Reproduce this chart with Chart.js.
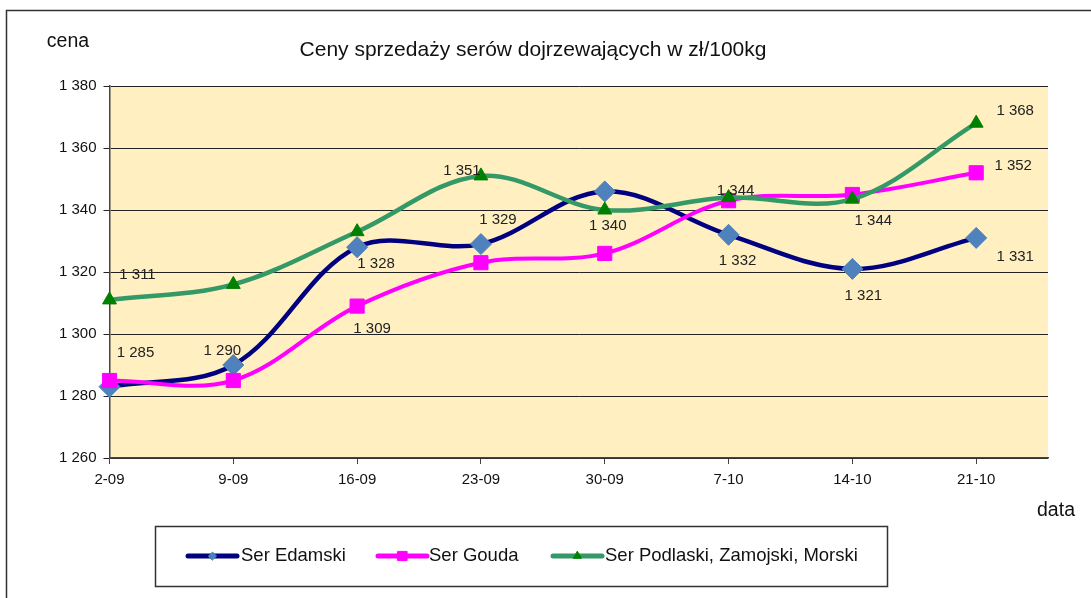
<!DOCTYPE html>
<html>
<head>
<meta charset="utf-8">
<script src="https://cdn.jsdelivr.net/npm/chart.js@4.4.1/dist/chart.umd.min.js"></script>
<style>
  html, body { margin: 0; padding: 0; background: #ffffff; }
  #wrap { width: 1091px; height: 598px; position: relative; }
</style>
</head>
<body>
<div id="wrap"><canvas id="c" width="1091" height="598"></canvas></div>
<script>
// ---- data ----
const categories = ['2-09', '9-09', '16-09', '23-09', '30-09', '7-10', '14-10', '21-10'];
const edamski = [1283, 1290, 1328, 1329, 1346, 1332, 1321, 1331];
const gouda = [1285, 1285, 1309, 1323, 1326, 1343, 1345, 1352];
const podlaski = [1311, 1316, 1333, 1351, 1340, 1344, 1343.5, 1368];
const seriesNames = ['Ser Edamski', 'Ser Gouda', 'Ser Podlaski, Zamojski, Morski'];
const yTickValues = [1260, 1280, 1300, 1320, 1340, 1360, 1380];
const chartTitle = 'Ceny sprzedaży serów dojrzewających w zł/100kg';
const yAxisTitle = 'cena';
const xAxisTitle = 'data';
// which points carry a value label (point index per series)
const edamskiLabelIdx = [1, 2, 3, 5, 6, 7];
const goudaLabelIdx = [0, 2, 7];
const podlaskiLabelIdx = [0, 3, 4, 5, 6, 7];

// ---- label placement (offsets from the point, px) ----
const labelOffsets = [
  {1: [-11, -14], 2: [19, 17], 3: [17, -24], 5: [9, 26], 6: [11, 27], 7: [39, 19]},
  {0: [26, -28], 2: [15, 23], 7: [37, -7]},
  {0: [28, -25], 3: [-19, -5], 4: [3, 16], 5: [7, -7], 6: [21, 22], 7: [39, -12]}
];
const labelIdx = [edamskiLabelIdx, goudaLabelIdx, podlaskiLabelIdx];

const FONT = '"Liberation Sans", Arial, sans-serif';
const fmt = v => String(Math.round(v)).replace(/\B(?=(\d{3})+(?!\d))/g, ' ');
const toXY = arr => arr.map((v, i) => ({x: i, y: v}));

const plotBg = {
  id: 'plotBg',
  beforeDraw(chart) {
    const {ctx, chartArea: a} = chart;
    ctx.save();
    ctx.fillStyle = '#ffffff';
    ctx.fillRect(0, 0, chart.width, chart.height);
    // outer frame (top & left visible)
    ctx.strokeStyle = '#333333';
    ctx.lineWidth = 1.5;
    ctx.beginPath();
    ctx.moveTo(6.5, chart.height);
    ctx.lineTo(6.5, 10.5);
    ctx.lineTo(chart.width, 10.5);
    ctx.stroke();
    ctx.fillStyle = '#FFEFC1';
    ctx.fillRect(a.left, a.top, a.right - a.left, a.bottom - a.top);
    ctx.restore();
  }
};

const decorations = {
  id: 'decorations',
  afterDatasetsDraw(chart) {
    const {ctx} = chart;
    ctx.save();
    // value labels
    ctx.font = '15px ' + FONT;
    ctx.fillStyle = '#222222';
    ctx.textAlign = 'center';
    ctx.textBaseline = 'middle';
    chart.data.datasets.forEach((ds, di) => {
      const meta = chart.getDatasetMeta(di);
      labelIdx[di].forEach(i => {
        const pt = meta.data[i];
        const off = labelOffsets[di][i] || [0, -15];
        ctx.fillText(fmt(ds.data[i].y), pt.x + off[0], pt.y + off[1]);
      });
    });
    ctx.restore();
  },
  afterDraw(chart) {
    const {ctx} = chart;
    ctx.save();
    ctx.fillStyle = '#111111';
    ctx.textBaseline = 'middle';
    ctx.textAlign = 'center';
    ctx.font = '21px ' + FONT;
    ctx.fillText(chartTitle, 533, 50);
    ctx.font = '19.5px ' + FONT;
    ctx.fillText(yAxisTitle, 68, 42);
    ctx.fillText(xAxisTitle, 1056, 511);

    // legend box
    ctx.strokeStyle = '#333333';
    ctx.lineWidth = 1.5;
    ctx.strokeRect(155.5, 526.5, 732, 60);
    const items = [
      {x1: 188, x2: 237, tx: 241},
      {x1: 378, x2: 427, tx: 429},
      {x1: 553, x2: 602, tx: 605}
    ];
    const ly = 556;
    chart.data.datasets.forEach((ds, i) => {
      const it = items[i];
      ctx.save();
      ctx.strokeStyle = ds.borderColor;
      ctx.lineWidth = 5;
      ctx.lineCap = 'round';
      ctx.beginPath();
      ctx.moveTo(it.x1, ly);
      ctx.lineTo(it.x2, ly);
      ctx.stroke();
      ctx.fillStyle = ds.pointBackgroundColor;
      ctx.strokeStyle = ds.pointBorderColor;
      ctx.lineWidth = 1;
      Chart.helpers.drawPoint(ctx, {
        pointStyle: ds.pointStyle, radius: ds.legendMarker, borderWidth: 1
      }, (it.x1 + it.x2) / 2, ly);
      ctx.restore();
      ctx.fillStyle = '#111111';
      ctx.font = '18.5px ' + FONT;
      ctx.textAlign = 'left';
      ctx.textBaseline = 'middle';
      ctx.fillText(seriesNames[i], it.tx, ly);
    });
    ctx.restore();
  }
};

new Chart(document.getElementById('c'), {
  type: 'line',
  data: {
    datasets: [
      {
        label: seriesNames[0], data: toXY(edamski),
        borderColor: '#000080', borderWidth: 4.5,
        pointStyle: 'rectRot', pointRadius: 10.5,
        pointBackgroundColor: '#4F81BD', pointBorderColor: '#4F81BD', pointBorderWidth: 1,
        legendMarker: 4, tension: 0.35, order: 3, clip: false
      },
      {
        label: seriesNames[1], data: toXY(gouda),
        borderColor: '#FF00FF', borderWidth: 4,
        pointStyle: 'rect', pointRadius: 10,
        pointBackgroundColor: '#FF00FF', pointBorderColor: '#FF00FF', pointBorderWidth: 1,
        legendMarker: 6.5, tension: 0.35, order: 2, clip: false
      },
      {
        label: seriesNames[2], data: toXY(podlaski),
        borderColor: '#339966', borderWidth: 4.5,
        pointStyle: 'triangle', pointRadius: 8,
        pointBackgroundColor: '#008000', pointBorderColor: '#008000', pointBorderWidth: 1,
        legendMarker: 4.5, tension: 0.35, order: 1, clip: false
      }
    ]
  },
  options: {
    responsive: false,
    animation: false,
    events: [],
    layout: {padding: {left: 0, top: 86, right: 43, bottom: 0}},
    plugins: {legend: {display: false}, title: {display: false}, tooltip: {enabled: false}},
    scales: {
      x: {
        type: 'linear',
        min: 0,
        max: 7.58,
        afterBuildTicks: s => { s.ticks = categories.map((c, i) => ({value: i})); },
        afterFit: s => { s.height = 140; },
        ticks: {
          callback: v => categories[v] !== undefined ? categories[v] : '',
          font: {size: 15, family: FONT},
          color: '#111111',
          padding: 7,
          maxRotation: 0,
          autoSkip: false
        },
        grid: {display: true, drawOnChartArea: false, drawTicks: true, tickLength: 6, color: '#444444'},
        border: {display: true, color: '#444444', width: 1.5}
      },
      y: {
        min: 1260,
        max: 1380,
        afterBuildTicks: s => { s.ticks = yTickValues.map(v => ({value: v})); },
        afterFit: s => { s.width = 109.5; },
        ticks: {
          callback: v => fmt(v),
          font: {size: 15, family: FONT},
          color: '#111111',
          padding: 7
        },
        grid: {color: '#222222', lineWidth: 1, drawTicks: true, tickLength: 6},
        border: {display: true, color: '#444444', width: 1.5}
      }
    }
  },
  plugins: [plotBg, decorations]
});
</script>
</body>
</html>
